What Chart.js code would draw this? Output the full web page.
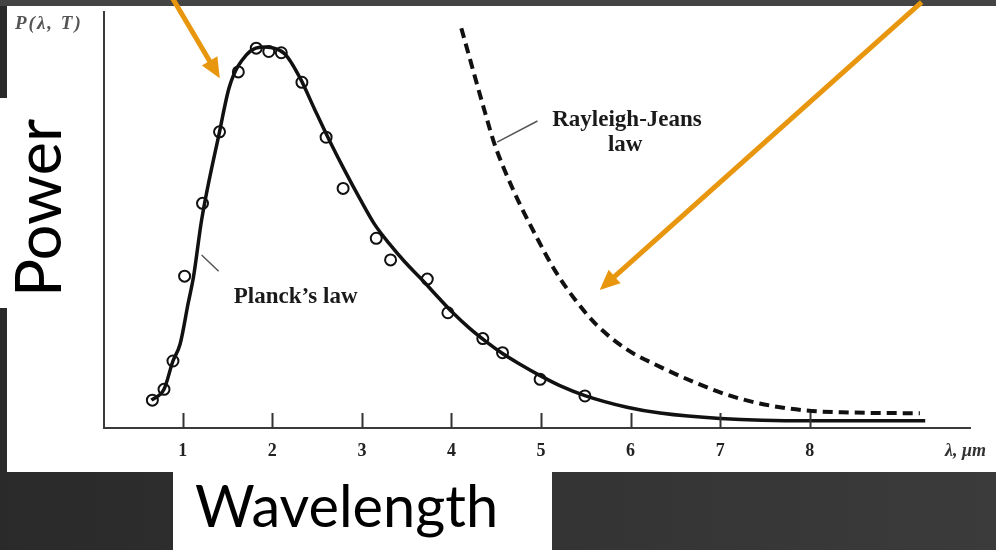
<!DOCTYPE html>
<html>
<head>
<meta charset="utf-8">
<script src="https://cdn.jsdelivr.net/npm/chart.js@4.4.1/dist/chart.umd.min.js"></script>
<style>
  body { margin: 0; width: 996px; height: 550px; overflow: hidden;
         background: linear-gradient(to right, #2a2a2a, #3b3b3b); }
  .box { position: absolute; background: #fff; }
  #topband { position: absolute; left: 0; top: 0; width: 996px; height: 6px; background: #444; }
  #wrap { position: absolute; left: 0; top: 0; width: 996px; height: 550px; }
</style>
</head>
<body>
<div id="topband"></div>
<div class="box" style="left:7px; top:6px; width:989px; height:466px;"></div>
<div class="box" style="left:0; top:98px; width:120px; height:210px;"></div>
<div class="box" style="left:173px; top:472px; width:379px; height:78px;"></div>
<div id="wrap"><canvas id="chart" width="996" height="550"></canvas></div>
<script>
// wavelength in micrometres, power in arbitrary units (0..100)
var measuredX = [0.66, 0.79, 0.89, 1.02, 1.22, 1.41, 1.62, 1.82, 1.96, 2.10, 2.33, 2.60, 2.79, 3.16, 3.32, 3.73, 3.96, 4.35, 4.57, 4.99, 5.49];
var measuredY = [6.7, 9.3, 16.1, 36.5, 54.0, 71.2, 85.6, 91.3, 90.5, 90.2, 83.1, 69.9, 57.6, 45.6, 40.4, 35.8, 27.7, 21.5, 18.1, 11.7, 7.7];

var planckX = [0.65, 0.79, 0.89, 0.97, 1.06, 1.12, 1.21, 1.41, 1.52, 1.71, 1.92, 2.14, 2.31, 2.47, 2.64, 2.81, 2.98, 3.14, 3.31, 3.48, 3.65, 3.87, 4.01, 4.20, 4.39, 4.57, 4.76, 4.99, 5.21, 5.49, 5.96, 6.33, 7.00, 8.00, 9.29];
var planckY = [6.7, 9.3, 16.1, 20.2, 30.0, 36.4, 50.0, 71.2, 82.0, 89.7, 91.6, 89.9, 84.1, 76.7, 69.0, 61.8, 55.0, 49.0, 44.2, 39.9, 36.1, 31.0, 27.8, 24.0, 20.7, 17.9, 15.4, 12.6, 10.2, 7.8, 5.0, 3.6, 2.3, 1.75, 1.75];

var rjX = [4.11, 4.24, 4.37, 4.48, 4.69, 4.95, 5.16, 5.40, 5.62, 5.95, 6.33, 6.70, 7.07, 7.44, 7.96, 8.45, 9.23];
var rjY = [96.1, 86.1, 76.2, 68.3, 57.2, 45.9, 37.7, 30.3, 24.8, 19.0, 14.7, 11.1, 8.05, 5.9, 4.2, 3.73, 3.53];

var xTickValues = [1, 2, 3, 4, 5, 6, 7, 8];

function toPoints(xs, ys) {
    var pts = [];
    for (var i = 0; i < xs.length; ++i) {
        pts.push({ x: xs[i], y: ys[i] });
    }
    return pts;
}

var SERIF = "'Liberation Serif', 'DejaVu Serif', serif";
var SANS = "Lato, 'Open Sans', 'Noto Sans', sans-serif";
var ORANGE = '#e8960e';

function fitFont(ctx, text, width, weight) {
    ctx.font = weight + ' 60px ' + SANS;
    var size = 60 * width / ctx.measureText(text).width;
    return weight + ' ' + size.toFixed(1) + 'px ' + SANS;
}

function arrow(ctx, x1, y1, x2, y2) {
    var ang = Math.atan2(y2 - y1, x2 - x1);
    var len = 20, half = 9;
    var bx = x2 - len * Math.cos(ang), by = y2 - len * Math.sin(ang);
    ctx.strokeStyle = ORANGE;
    ctx.fillStyle = ORANGE;
    ctx.lineWidth = 5;
    ctx.beginPath();
    ctx.moveTo(x1, y1);
    ctx.lineTo(bx + 2 * Math.cos(ang), by + 2 * Math.sin(ang));
    ctx.stroke();
    ctx.beginPath();
    ctx.moveTo(x2, y2);
    ctx.lineTo(bx + half * Math.sin(ang), by - half * Math.cos(ang));
    ctx.lineTo(bx - half * Math.sin(ang), by + half * Math.cos(ang));
    ctx.closePath();
    ctx.fill();
}

var decorations = {
    id: 'decorations',
    afterDraw: function (chart) {
        var ctx = chart.ctx;
        var xs = chart.scales.x, ys = chart.scales.y;
        var area = chart.chartArea;
        function px(v) { return xs.getPixelForValue(v); }
        function py(v) { return ys.getPixelForValue(v); }

        ctx.save();
        // inward tick marks
        ctx.strokeStyle = '#333';
        ctx.lineWidth = 2;
        xs.ticks.forEach(function (t) {
            var x = Math.round(px(t.value)) + 0.5;
            ctx.beginPath();
            ctx.moveTo(x, area.bottom);
            ctx.lineTo(x, area.bottom - 15);
            ctx.stroke();
        });

        // leader lines
        ctx.strokeStyle = '#555';
        ctx.lineWidth = 1.5;
        ctx.beginPath();
        ctx.moveTo(px(4.96), py(73.8));
        ctx.lineTo(px(4.51), py(68.7));
        ctx.moveTo(px(1.21), py(41.6));
        ctx.lineTo(px(1.40), py(37.7));
        ctx.stroke();

        // scanned-figure labels
        ctx.fillStyle = '#1a1a1a';
        ctx.textAlign = 'center';
        ctx.textBaseline = 'middle';
        ctx.font = 'bold 23px ' + SERIF;
        ctx.fillText('Rayleigh-Jeans', px(5.96), py(74.0));
        ctx.fillText('law', px(5.94), py(68.0));
        ctx.fillText('Planck\u2019s law', px(2.26), py(31.5));

        ctx.textAlign = 'left';
        ctx.font = 'italic bold 18px ' + SERIF;
        ctx.fillStyle = '#333';
        ctx.fillText('\u03bb, \u03bcm', 945, area.bottom + 23);

        ctx.fillStyle = '#555';
        ctx.font = 'italic bold 19px ' + SERIF;
        ctx.letterSpacing = '2px';
        ctx.fillText('P(\u03bb, T)', 15, 24);
        ctx.letterSpacing = '0px';

        // slide axis captions
        ctx.fillStyle = '#000';
        ctx.textBaseline = 'alphabetic';
        ctx.font = fitFont(ctx, 'Wavelength', 303, 'normal');
        ctx.fillText('Wavelength', 195, 527);
        ctx.save();
        ctx.translate(61, 297);
        ctx.rotate(-Math.PI / 2);
        ctx.font = fitFont(ctx, 'Power', 178, 'normal');
        ctx.fillText('Power', 0, 0);
        ctx.restore();

        // orange arrows
        arrow(ctx, px(0.877), py(103.6), px(1.413), py(84.1));
        arrow(ctx, px(9.25), py(102.4), px(5.655), py(33.2));
        ctx.restore();
    }
};

var ctx = document.getElementById('chart').getContext('2d');
new Chart(ctx, {
    type: 'line',
    data: {
        datasets: [{
            label: "Planck's law",
            data: toPoints(planckX, planckY),
            borderColor: '#111',
            borderWidth: 3.5,
            pointRadius: 0,
            cubicInterpolationMode: 'monotone',
            fill: false
        }, {
            label: 'Rayleigh-Jeans law',
            data: toPoints(rjX, rjY),
            borderColor: '#111',
            borderWidth: 4,
            borderDash: [10, 6],
            pointRadius: 0,
            cubicInterpolationMode: 'monotone',
            fill: false
        }, {
            label: 'Measured',
            data: toPoints(measuredX, measuredY),
            showLine: false,
            pointRadius: 5.5,
            pointBorderWidth: 2,
            pointBackgroundColor: '#fff',
            pointBorderColor: '#111'
        }]
    },
    options: {
        responsive: false,
        animation: false,
        events: [],
        layout: { padding: { left: 104, top: 12, right: 26, bottom: 91 } },
        plugins: {
            legend: { display: false },
            tooltip: { enabled: false },
            title: { display: false }
        },
        scales: {
            x: {
                type: 'linear',
                min: 0.12,
                max: 9.79,
                afterBuildTicks: function (scale) {
                    scale.ticks = xTickValues.map(function (v) { return { value: v }; });
                },
                afterFit: function (scale) { scale.height = 31; },
                ticks: {
                    autoSkip: false,
                    maxRotation: 0,
                    padding: 13,
                    color: '#222',
                    font: { family: SERIF, size: 18, weight: 'bold' }
                },
                grid: { display: false, drawTicks: false },
                border: { display: true, color: '#3a3a3a', width: 2 }
            },
            y: {
                type: 'linear',
                min: 0,
                max: 100,
                afterFit: function (scale) { scale.width = 0; },
                ticks: { display: false },
                grid: { display: false, drawTicks: false },
                border: { display: true, color: '#3a3a3a', width: 2 }
            }
        }
    },
    plugins: [decorations]
});
</script>
</body>
</html>
